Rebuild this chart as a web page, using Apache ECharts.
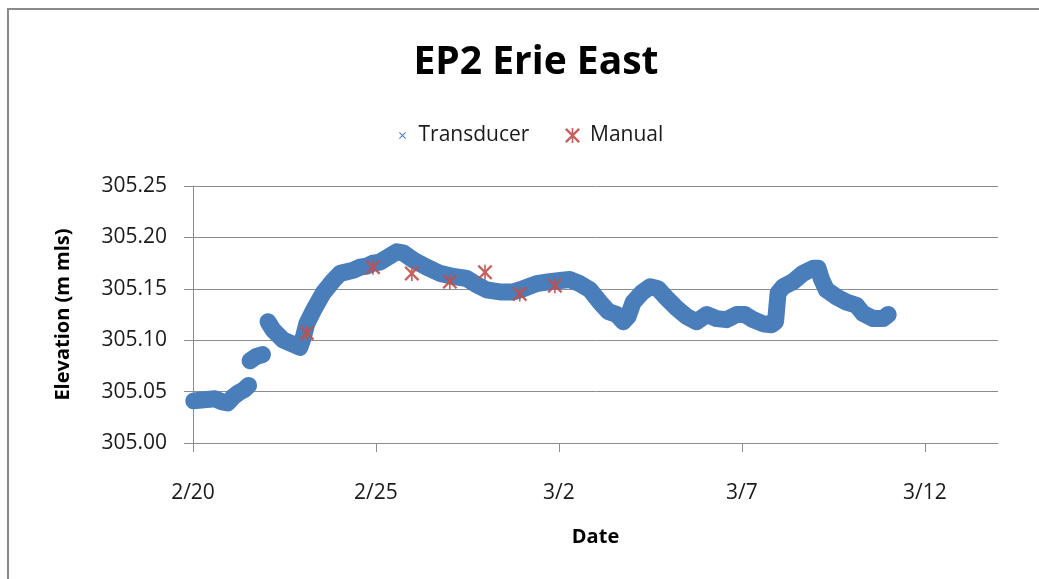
<!DOCTYPE html>
<html>
<head>
<meta charset="utf-8">
<script src="https://cdn.jsdelivr.net/npm/echarts@6/dist/echarts.min.js"></script>
<style>
  html, body { margin: 0; padding: 0; background: #fff; }
  #chart { width: 1039px; height: 579px; }
</style>
</head>
<body>
<div id="chart"></div>
<script>
// x = days after 2/20, y = elevation (m mls)
const xTickLabels = ['2/20', '2/25', '3/2', '3/7', '3/12']

// transducer record, split where the logger jumps
const transducerA = [
  [0.02, 305.041], [0.3, 305.042], [0.6, 305.043], [0.8, 305.040], [0.95, 305.039],
  [1.1, 305.045], [1.25, 305.049], [1.4, 305.052], [1.52, 305.056]
]
const transducerB = [
  [1.56, 305.080], [1.72, 305.084], [1.9, 305.086]
]
const transducerC = [
  [2.05, 305.118], [2.19, 305.110], [2.47, 305.100], [2.74, 305.096], [2.92, 305.093],
  [3.01, 305.102], [3.11, 305.116], [3.29, 305.129], [3.56, 305.146], [3.83, 305.158],
  [4.02, 305.165], [4.38, 305.168], [4.56, 305.171], [4.75, 305.172], [4.92, 305.175],
  [5.11, 305.176], [5.29, 305.180], [5.57, 305.186], [5.74, 305.185], [6.02, 305.178],
  [6.39, 305.171], [6.75, 305.165], [7.11, 305.162], [7.48, 305.160], [7.75, 305.154],
  [8.02, 305.149], [8.39, 305.147], [8.75, 305.147], [9.02, 305.150], [9.39, 305.155],
  [9.75, 305.157], [10.03, 305.158], [10.30, 305.159], [10.57, 305.155], [10.85, 305.149],
  [11.12, 305.137], [11.35, 305.128], [11.58, 305.125], [11.76, 305.118], [11.89, 305.123],
  [12.03, 305.137], [12.26, 305.146], [12.49, 305.152], [12.71, 305.150], [12.94, 305.141],
  [13.22, 305.131], [13.49, 305.123], [13.76, 305.118], [14.04, 305.125], [14.31, 305.121],
  [14.58, 305.120], [14.86, 305.125], [15.08, 305.125], [15.31, 305.120], [15.58, 305.116],
  [15.81, 305.115], [15.92, 305.118], [15.99, 305.146], [16.13, 305.152], [16.40, 305.157],
  [16.67, 305.165], [16.95, 305.170], [17.08, 305.170], [17.18, 305.159], [17.31, 305.149],
  [17.59, 305.142], [17.86, 305.137], [18.13, 305.134], [18.31, 305.126], [18.59, 305.121],
  [18.86, 305.121], [19.0, 305.125]
]

// manual readings
const manual = [
  [3.11, 305.107], [4.92, 305.171], [5.98, 305.165], [7.02, 305.157],
  [7.98, 305.166], [8.93, 305.145], [9.89, 305.153]
]

const BLUE = '#4a7ebb'
const RED = '#c0504d'
const GRID = '#8c8c8c'
const FONT = 'Open Sans'

// filled x and asterisk shapes
const crossPath = 'path://M0,1L1,0L5,4L9,0L10,1L6,5L10,9L9,10L5,6L1,10L0,9L4,5Z'
const starPath = 'path://M0,1.1L1.1,0L5,3.9L8.9,0L10,1.1L6.1,5L10,8.9L8.9,10L5,6.1L1.1,10L0,8.9L3.9,5Z M4.45,0L5.55,0L5.55,10L4.45,10Z'

const chart = echarts.init(document.getElementById('chart'))

const bandSeries = [transducerA, transducerB, transducerC].map(seg => ({
  name: 'Transducer',
  type: 'line',
  data: seg,
  showSymbol: false,
  symbol: crossPath,
  color: BLUE,
  lineStyle: { color: BLUE, width: 17, cap: 'round', join: 'round' },
  z: 2
}))

chart.setOption({
  animation: false,
  backgroundColor: '#fff',
  textStyle: { fontFamily: FONT },
  graphic: [{
    type: 'rect',
    shape: { x: 8, y: 9, width: 1100, height: 700 },
    style: { fill: 'none', stroke: '#8a8a8a', lineWidth: 2 },
    silent: true
  }],
  title: {
    text: 'EP2 Erie East',
    left: 531,
    textAlign: 'center',
    top: 38,
    textStyle: { fontFamily: FONT, fontSize: 39, fontWeight: 'bold', color: '#000' }
  },
  legend: [{
    data: [{ name: 'Transducer', icon: crossPath }],
    left: 394,
    top: 120,
    itemWidth: 22,
    itemHeight: 7,
    textStyle: { fontFamily: FONT, fontSize: 21, color: '#1a1a1a' }
  }, {
    data: [{ name: 'Manual', icon: starPath }],
    left: 560,
    top: 120,
    itemWidth: 25,
    itemHeight: 15,
    textStyle: { fontFamily: FONT, fontSize: 21, color: '#1a1a1a' }
  }],
  grid: { left: 193, right: 41, top: 186, bottom: 136, containLabel: false, outerBoundsMode: 'none' },
  xAxis: {
    type: 'value',
    min: 0,
    max: 22,
    interval: 5,
    name: 'Date',
    nameLocation: 'middle',
    nameGap: 84,
    nameTextStyle: { fontFamily: FONT, fontSize: 20, fontWeight: 'bold', color: '#000' },
    axisLine: { lineStyle: { color: GRID, width: 1 } },
    axisTick: { show: true, inside: false, length: 9, lineStyle: { color: GRID } },
    splitLine: { show: false },
    axisLabel: {
      margin: 40,
      fontFamily: FONT,
      fontSize: 21,
      color: '#1a1a1a',
      showMaxLabel: false,
      formatter: v => xTickLabels[Math.round(v / 5)] || ''
    }
  },
  yAxis: {
    type: 'value',
    min: 305.0,
    max: 305.25,
    interval: 0.05,
    name: 'Elevation (m mls)',
    nameLocation: 'middle',
    nameRotate: 90,
    nameGap: 120,
    nameTextStyle: { fontFamily: FONT, fontSize: 20, fontWeight: 'bold', color: '#000' },
    axisLine: { show: true, lineStyle: { color: GRID, width: 1 } },
    axisTick: { show: true, inside: false, length: 9, lineStyle: { color: GRID } },
    splitLine: { show: true, lineStyle: { color: GRID, width: 1 } },
    axisLabel: {
      margin: 26,
      fontFamily: FONT,
      fontSize: 21,
      color: '#1a1a1a',
      formatter: v => v.toFixed(2)
    }
  },
  series: [
    ...bandSeries,
    {
      name: 'Manual',
      type: 'scatter',
      data: manual,
      symbol: starPath,
      symbolSize: 15,
      itemStyle: { color: RED, opacity: 0.9 },
      z: 5
    }
  ]
})
</script>
</body>
</html>
